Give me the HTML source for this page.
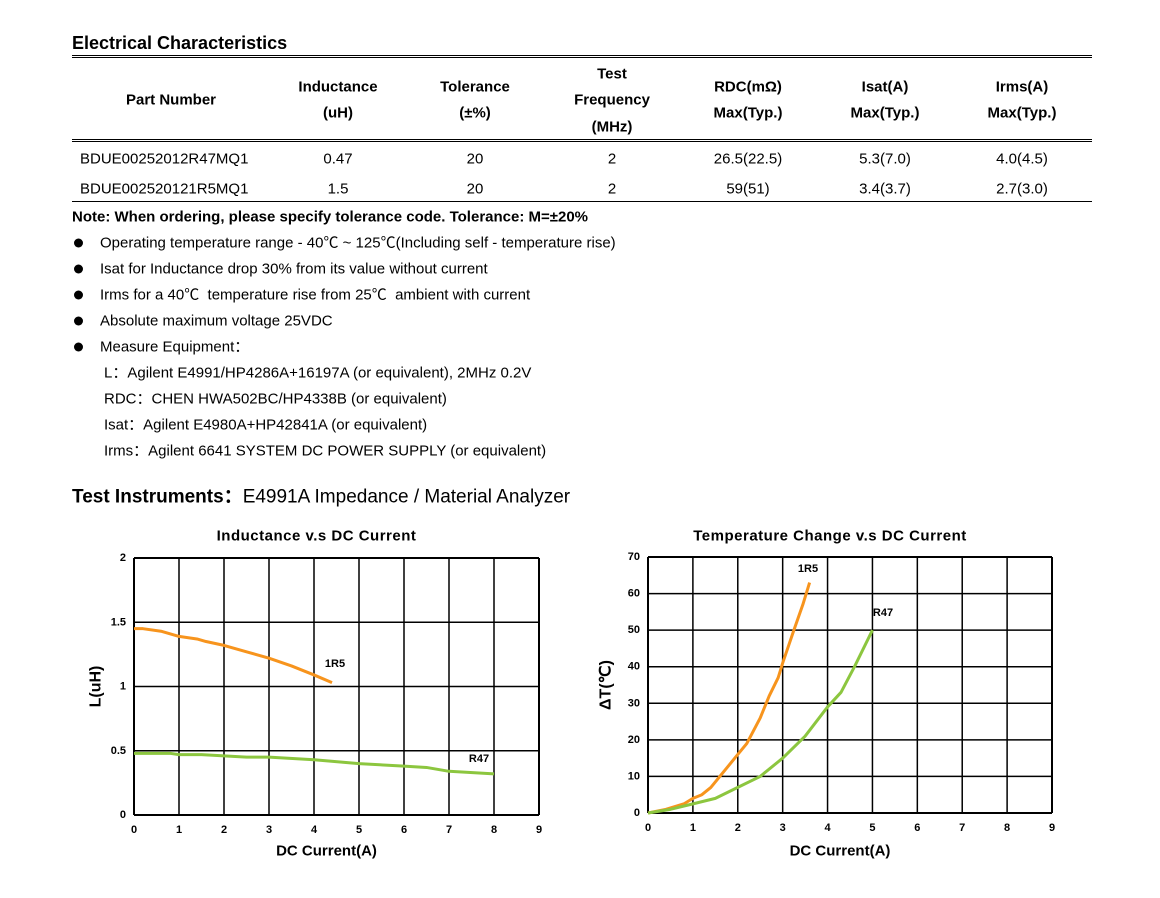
<!DOCTYPE html>
<html><head><meta charset="utf-8">
<style>
body{margin:0;width:1160px;height:898px;background:#fff;position:relative;font-family:"Liberation Sans","Noto Sans CJK SC",sans-serif;color:#000;overflow:hidden}
.t{position:absolute;white-space:nowrap;line-height:1;transform:translateY(-50%)}
.c{transform:translate(-50%,-50%)}
.b{font-weight:bold}
.h{position:absolute;left:72px;width:1020px;height:0;border-top:1px solid #000}
.f15{font-size:15px}
.dot{position:absolute;left:74px;width:9px;height:9px;border-radius:50%;background:#000;transform:translateY(-50%)}
</style></head><body>
<div class="t b" style="left:72px;top:43px;font-size:18px">Electrical Characteristics</div>
<div class="h" style="top:55px"></div><div class="h" style="top:57px"></div>
<div class="h" style="top:139px"></div><div class="h" style="top:141px"></div>
<div class="h" style="top:201px"></div>
<div>
<div class="t c b f15" style="left:171px;top:100px">Part Number</div>
<div class="t c b f15" style="left:338px;top:87px">Inductance</div>
<div class="t c b f15" style="left:338px;top:113px">(uH)</div>
<div class="t c b f15" style="left:475px;top:87px">Tolerance</div>
<div class="t c b f15" style="left:475px;top:113px">(±%)</div>
<div class="t c b f15" style="left:612px;top:74px">Test</div>
<div class="t c b f15" style="left:612px;top:100px">Frequency</div>
<div class="t c b f15" style="left:612px;top:127px">(MHz)</div>
<div class="t c b f15" style="left:748px;top:87px">RDC(mΩ)</div>
<div class="t c b f15" style="left:748px;top:113px">Max(Typ.)</div>
<div class="t c b f15" style="left:885px;top:87px">Isat(A)</div>
<div class="t c b f15" style="left:885px;top:113px">Max(Typ.)</div>
<div class="t c b f15" style="left:1022px;top:87px">Irms(A)</div>
<div class="t c b f15" style="left:1022px;top:113px">Max(Typ.)</div>
</div>
<div>
<div class="t f15" style="left:80px;top:159px">BDUE00252012R47MQ1</div>
<div class="t c f15" style="left:338px;top:159px">0.47</div>
<div class="t c f15" style="left:475px;top:159px">20</div>
<div class="t c f15" style="left:612px;top:159px">2</div>
<div class="t c f15" style="left:748px;top:159px">26.5(22.5)</div>
<div class="t c f15" style="left:885px;top:159px">5.3(7.0)</div>
<div class="t c f15" style="left:1022px;top:159px">4.0(4.5)</div>
</div>
<div>
<div class="t f15" style="left:80px;top:189px">BDUE002520121R5MQ1</div>
<div class="t c f15" style="left:338px;top:189px">1.5</div>
<div class="t c f15" style="left:475px;top:189px">20</div>
<div class="t c f15" style="left:612px;top:189px">2</div>
<div class="t c f15" style="left:748px;top:189px">59(51)</div>
<div class="t c f15" style="left:885px;top:189px">3.4(3.7)</div>
<div class="t c f15" style="left:1022px;top:189px">2.7(3.0)</div>
</div>
<div class="t b f15" style="left:72px;top:217px">Note: When ordering, please specify tolerance code. Tolerance: M=±20%</div>
<div>
<div class="dot" style="top:243px"></div><div class="t f15" style="left:100px;top:243px">Operating temperature range - 40℃ ~ 125℃(Including self - temperature rise)</div>
<div class="dot" style="top:269px"></div><div class="t f15" style="left:100px;top:269px">Isat for Inductance drop 30% from its value without current</div>
<div class="dot" style="top:295px"></div><div class="t f15" style="left:100px;top:295px">Irms for a 40℃&nbsp; temperature rise from 25℃&nbsp; ambient with current</div>
<div class="dot" style="top:321px"></div><div class="t f15" style="left:100px;top:321px">Absolute maximum voltage 25VDC</div>
<div class="dot" style="top:347px"></div><div class="t f15" style="left:100px;top:347px">Measure Equipment：</div>
<div class="t f15" style="left:104px;top:373px">L：Agilent E4991/HP4286A+16197A (or equivalent), 2MHz 0.2V</div>
<div class="t f15" style="left:104px;top:399px">RDC：CHEN HWA502BC/HP4338B (or equivalent)</div>
<div class="t f15" style="left:104px;top:425px">Isat：Agilent E4980A+HP42841A (or equivalent)</div>
<div class="t f15" style="left:104px;top:451px">Irms：Agilent 6641 SYSTEM DC POWER SUPPLY (or equivalent)</div>
</div>
<div class="t" style="left:72px;top:497px;font-size:19px"><b>Test Instruments：</b>E4991A Impedance / Material Analyzer</div>

<svg id="svg" width="1160" height="898" style="position:absolute;left:0;top:0" font-family="Liberation Sans, sans-serif"></svg>
<script>
const xTicks=[0,1,2,3,4,5,6,7,8,9];
const lTicks=[0,0.5,1,1.5,2];
const lTickLabels=['0','0.5','1','1.5','2'];
const tTicks=[0,10,20,30,40,50,60,70];
const l1r5X=[0,0.2,0.6,0.8,1,1.4,1.6,2,2.5,3,3.5,4,4.4];
const l1r5Y=[1.45,1.45,1.43,1.41,1.39,1.37,1.35,1.32,1.27,1.22,1.16,1.09,1.03];
const lr47X=[0,0.8,1,1.5,2,2.5,3,4,5,6,6.5,7,8];
const lr47Y=[0.48,0.48,0.47,0.47,0.46,0.45,0.45,0.43,0.40,0.38,0.37,0.34,0.32];
const t1r5X=[0,0.4,0.8,1,1.2,1.4,1.6,2,2.2,2.5,2.7,2.9,3,3.25,3.45,3.6];
const t1r5Y=[0,1,2.5,4,5,7,10,16,19,26,32,37,41,50,57,63];
const tr47X=[0,0.5,1,1.5,2,2.5,3,3.5,4,4.3,4.6,5];
const tr47Y=[0,1,2.5,4,7,10,15,21,29,33,40,50];
const NS='http://www.w3.org/2000/svg';
const svg=document.getElementById('svg');
function mk(tag,attrs,parent){const e=document.createElementNS(NS,tag);for(const k in attrs)e.setAttribute(k,attrs[k]);(parent||svg).appendChild(e);return e;}
function txt(s,x,y,size,parent,anchor,extra){const e=mk('text',Object.assign({x:x,y:y,'font-size':size,'font-weight':'bold','text-anchor':anchor||'middle','dominant-baseline':'central'},extra||{}),parent);e.textContent=s;return e;}
function chart(cfg){
  const g=mk('g',{});
  
  
  const sx=v=>cfg.x0+(v-0)/9*(cfg.x1-cfg.x0);
  const sy=v=>cfg.y1-(v/cfg.ymax)*(cfg.y1-cfg.y0);
  xTicks.forEach(v=>{const l=mk('line',{x1:sx(v),x2:sx(v),y1:cfg.y0,y2:cfg.y1,stroke:'#000','stroke-width':v==0||v==9?2:1.5},g);
    const t=txt(String(v),sx(v),cfg.y1+15,11,g);});
  cfg.yTicks.forEach((v,i)=>{const l=mk('line',{x1:cfg.x0,x2:cfg.x1,y1:sy(v),y2:sy(v),stroke:'#000','stroke-width':(i==0||v==cfg.ymax)?2:1.5},g);
    const t=txt(cfg.yLabels[i],cfg.x0-8,sy(v),11,g,'end');});
  cfg.series.forEach(s=>{const p=mk('polyline',{points:s.x.map((v,i)=>sx(v)+','+sy(s.y[i])).join(' '),fill:'none',stroke:s.color,'stroke-width':3,'stroke-linejoin':'round'},g);
    
    const t=txt(s.label,s.lx,s.ly,11,g);});
  const ti=txt(cfg.title,(cfg.x0+cfg.x1)/2+cfg.tdx,536,15,g,'middle',{'letter-spacing':'0.5'});
  const xt=txt('DC Current(A)',(cfg.x0+cfg.x1)/2-10,851,15,g);
  const yt=txt(cfg.ytitle,cfg.ytx,(cfg.y0+cfg.y1)/2,16,g,'middle',{transform:'rotate(-90 '+cfg.ytx+' '+(cfg.y0+cfg.y1)/2+')'});
}
chart({name:'inductance-chart',x0:134,x1:539,y0:558,y1:815,ymax:2,yTicks:lTicks,yLabels:lTickLabels,title:'Inductance v.s DC Current',tdx:-20,ytitle:'L(uH)',ytx:96,
 series:[{name:'line-1r5',x:l1r5X,y:l1r5Y,color:'#f7941d',label:'1R5',lx:335,ly:664},{name:'line-r47',x:lr47X,y:lr47Y,color:'#8cc63f',label:'R47',lx:479,ly:759}]});
chart({name:'temperature-chart',x0:648,x1:1052,y0:557,y1:813,ymax:70,yTicks:tTicks,yLabels:tTicks.map(String),title:'Temperature Change v.s DC Current',tdx:-20,ytitle:'ΔT(℃)',ytx:606,
 series:[{name:'line-1r5-temp',x:t1r5X,y:t1r5Y,color:'#f7941d',label:'1R5',lx:808,ly:569},{name:'line-r47-temp',x:tr47X,y:tr47Y,color:'#8cc63f',label:'R47',lx:883,ly:613}]});
</script>
</body></html>
